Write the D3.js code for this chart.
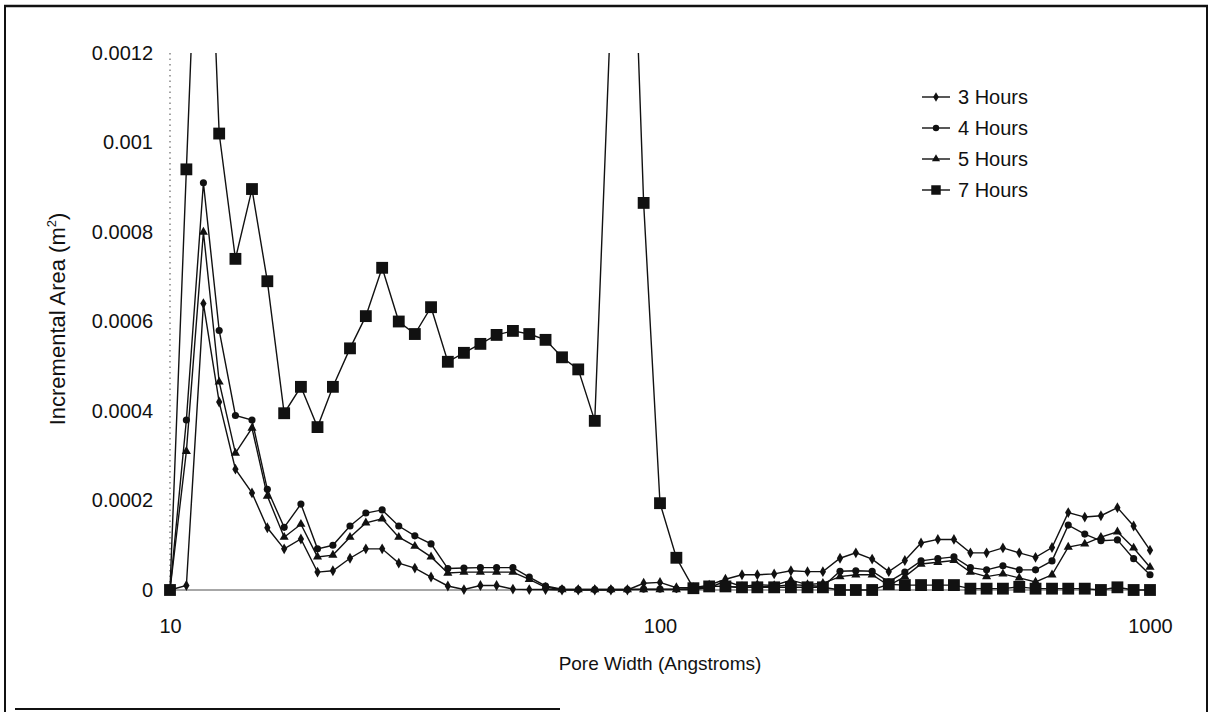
<!DOCTYPE html>
<html>
<head>
<meta charset="utf-8">
<script src="https://cdn.jsdelivr.net/npm/d3@7"></script>
<style>
  html, body { margin: 0; padding: 0; background: #fff; }
  svg { display: block; font-family: "Liberation Sans", Arial, sans-serif; }
</style>
</head>
<body>
<svg id="chart" width="1212" height="712"></svg>
<script>
// Pore widths (Angstroms), shared by every series
const poreWidth = [10.0, 10.8, 11.7, 12.6, 13.6, 14.7, 15.8, 17.1, 18.5, 20.0,
  21.5, 23.3, 25.1, 27.1, 29.3, 31.6, 34.1, 36.9, 39.8, 43.0,
  46.4, 50.1, 54.1, 58.4, 63.1, 68.1, 73.6, 79.4, 85.8, 92.6,
  100, 108, 117, 126, 136, 147, 158, 171, 185, 200,
  215, 233, 251, 271, 293, 316, 341, 369, 398, 430,
  464, 501, 541, 584, 631, 681, 736, 794, 858, 926, 1000];

// Incremental area (m^2) per series
const hours3 = [0, 0.00001, 0.00064, 0.00042, 0.00027, 0.000217, 0.000139, 0.000092, 0.000114, 0.00004,
  0.000043, 0.000071, 0.000092, 0.000092, 0.00006, 0.000049, 0.000029, 0.000009, 0.000001, 0.00001,
  0.00001, 0.000002, 0.000001, 0.000001, 0, 0, 0, 0, 0, 0.000015,
  0.000017, 0.000005, 0.000005, 0.000011, 0.000024, 0.000034, 0.000034, 0.000036, 0.000043, 0.000041,
  0.000041, 0.000071, 0.000083, 0.000069, 0.000041, 0.000066, 0.000105, 0.000113, 0.000113, 0.000083,
  0.000083, 0.000094, 0.000083, 0.000073, 0.000095, 0.000173, 0.000163, 0.000166, 0.000184, 0.000143, 0.000089];

const hours4 = [0, 0.00038, 0.00091, 0.00058, 0.00039, 0.00038, 0.000225, 0.00014, 0.000192, 0.000092,
  0.0001, 0.000143, 0.000172, 0.000179, 0.000143, 0.000121, 0.000103, 0.000048, 0.000049, 0.00005,
  0.00005, 0.00005, 0.000029, 0.000009, 0.000002, 0.000001, 0.000001, 0.000001, 0.000001, 0.000002,
  0.000002, 0.000002, 0.000003, 0.000008, 0.000008, 0.000005, 0.000008, 0.000008, 0.000012, 0.00001,
  0.000008, 0.000042, 0.000043, 0.000042, 0.000018, 0.00004, 0.000065, 0.00007, 0.000074, 0.00005,
  0.000045, 0.000054, 0.000045, 0.000045, 0.000065, 0.000145, 0.000125, 0.00011, 0.000112, 0.00007, 0.000034];

const hours5 = [0, 0.00031, 0.0008, 0.000465, 0.000306, 0.000362, 0.00021, 0.000118, 0.000147, 0.000074,
  0.000078, 0.000118, 0.00015, 0.000159, 0.000118, 0.000098, 0.000074, 0.000038, 0.00004, 0.00004,
  0.00004, 0.00004, 0.000024, 0.000006, 0.000001, 0.000001, 0.000001, 0.000001, 0.000001, 0.000001,
  0.000001, 0.000001, 0.000001, 0.000005, 0.00002, 0.000008, 0.000012, 0.00001, 0.000022, 0.000012,
  0.000015, 0.00003, 0.000034, 0.000034, 0.00001, 0.00003, 0.000058, 0.000062, 0.000066, 0.00004,
  0.00003, 0.000036, 0.000027, 0.000018, 0.000034, 0.000096, 0.000103, 0.000118, 0.00013, 0.000094, 0.000051];

const hours7 = [0, 0.00094, 0.0019, 0.00102, 0.00074, 0.000896, 0.00069, 0.000395, 0.000454, 0.000364,
  0.000454, 0.00054, 0.000612, 0.00072, 0.0006, 0.000572, 0.000632, 0.00051, 0.00053, 0.00055,
  0.00057, 0.000579, 0.000572, 0.000559, 0.00052, 0.000493, 0.000378, 0.0013, 0.0019, 0.000865,
  0.000194, 0.000072, 0.000004, 0.000008, 0.000008, 0.000006, 0.000006, 0.000006, 0.000006, 0.000006,
  0.000006, 0, 0, 0, 0.000013, 0.000011, 0.000011, 0.000011, 0.000011, 0.000003,
  0.000003, 0.000003, 0.000007, 0.000003, 0.000003, 0.000003, 0.000003, 0, 0.000006, 0, 0];

const seriesNames = ["3 Hours", "4 Hours", "5 Hours", "7 Hours"];
const xTicks = [10, 100, 1000];
const yTicks = [0, 0.0002, 0.0004, 0.0006, 0.0008, 0.001, 0.0012];

const series = [
  { name: seriesNames[0], values: hours3, symbol: d3.symbolDiamond, size: 34 },
  { name: seriesNames[1], values: hours4, symbol: d3.symbolCircle, size: 40 },
  { name: seriesNames[2], values: hours5, symbol: d3.symbolTriangle, size: 36 },
  { name: seriesNames[3], values: hours7, symbol: d3.symbolSquare, size: 140 }
];

const svg = d3.select("#chart");
const W = 1212, H = 712;
const plot = { left: 170, right: 1150, top: 53, bottom: 590 };

svg.append("rect").attr("width", W).attr("height", H).attr("fill", "#fff");

// outer frame
const frame = svg.append("g").attr("stroke", "#111").attr("fill", "none");
frame.append("line").attr("x1", 4).attr("x2", 1208).attr("y1", 6).attr("y2", 6).attr("stroke-width", 2.5);
frame.append("line").attr("x1", 5).attr("x2", 5).attr("y1", 5).attr("y2", 712).attr("stroke-width", 2);
frame.append("line").attr("x1", 1207).attr("x2", 1207).attr("y1", 5).attr("y2", 712).attr("stroke-width", 2);
frame.append("line").attr("x1", 15).attr("x2", 560).attr("y1", 709).attr("y2", 709).attr("stroke-width", 2);

const x = d3.scaleLog().domain([10, 1000]).range([plot.left, plot.right]);
const y = d3.scaleLinear().domain([0, 0.0012]).range([plot.bottom, plot.top]);

// axis lines
svg.append("line")
  .attr("x1", plot.left).attr("x2", plot.left)
  .attr("y1", plot.top).attr("y2", plot.bottom)
  .attr("stroke", "#666").attr("stroke-width", 1.2).attr("stroke-dasharray", "1.5,4");
svg.append("line")
  .attr("x1", plot.left).attr("x2", plot.right)
  .attr("y1", plot.bottom).attr("y2", plot.bottom)
  .attr("stroke", "#8a8a8a").attr("stroke-width", 1.5);

// y axis labels
const yAxis = svg.append("g")
  .attr("transform", `translate(${plot.left},0)`)
  .call(d3.axisLeft(y).tickValues(yTicks).tickSize(0).tickPadding(17)
    .tickFormat(d => d === 0 ? "0" : d3.format("~g")(d)));
yAxis.select(".domain").remove();
yAxis.selectAll("text").attr("font-size", 20).attr("fill", "#111")
  .attr("font-family", "Liberation Sans, Arial, sans-serif");

// x axis labels
const xAxis = svg.append("g")
  .attr("transform", `translate(0,${plot.bottom})`)
  .call(d3.axisBottom(x).tickValues(xTicks).tickSize(0).tickPadding(29)
    .tickFormat(d3.format("d")));
xAxis.select(".domain").remove();
xAxis.selectAll("text").attr("font-size", 20).attr("fill", "#111")
  .attr("font-family", "Liberation Sans, Arial, sans-serif");

// axis titles
svg.append("text")
  .attr("x", (plot.left + plot.right) / 2).attr("y", 670)
  .attr("text-anchor", "middle").attr("font-size", 19).attr("fill", "#111")
  .text("Pore Width (Angstroms)");

const yTitle = svg.append("text")
  .attr("transform", "translate(65,319) rotate(-90)")
  .attr("text-anchor", "middle").attr("font-size", 22).attr("fill", "#111");
yTitle.append("tspan").text("Incremental Area (m");
yTitle.append("tspan").attr("font-size", 13).attr("dy", -9).text("2");
yTitle.append("tspan").attr("dy", 9).text(")");

// clip region for the series lines
svg.append("clipPath").attr("id", "plotClip")
  .append("rect")
  .attr("x", plot.left - 8).attr("y", plot.top)
  .attr("width", plot.right - plot.left + 16).attr("height", plot.bottom - plot.top + 8);

const line = d3.line()
  .x((d, i) => x(poreWidth[i]))
  .y(d => y(d));

const gSeries = svg.append("g");
series.forEach(s => {
  gSeries.append("path")
    .datum(s.values)
    .attr("d", line)
    .attr("clip-path", "url(#plotClip)")
    .attr("fill", "none")
    .attr("stroke", "#111")
    .attr("stroke-width", 1.4);
});

series.forEach(s => {
  const pts = s.values.map((v, i) => ({ v, w: poreWidth[i] })).filter(p => p.v <= 0.0012);
  gSeries.append("g").selectAll("path")
    .data(pts)
    .join("path")
    .attr("transform", p => `translate(${x(p.w)},${y(p.v)})`)
    .attr("d", d3.symbol().type(s.symbol).size(s.size))
    .attr("fill", "#111");
});

// legend
const legend = svg.append("g").attr("transform", "translate(922,97)");
series.forEach((s, i) => {
  const row = legend.append("g").attr("transform", `translate(0,${i * 31})`);
  row.append("line").attr("x1", 0).attr("x2", 28).attr("y1", 0).attr("y2", 0)
    .attr("stroke", "#111").attr("stroke-width", 1.4);
  row.append("path")
    .attr("transform", "translate(14,0)")
    .attr("d", d3.symbol().type(s.symbol).size(i === 3 ? 90 : s.size * 0.8))
    .attr("fill", "#111");
  row.append("text")
    .attr("x", 36).attr("y", 0).attr("dy", "0.35em")
    .attr("font-size", 20).attr("fill", "#111")
    .text(s.name);
});
</script>
</body>
</html>
